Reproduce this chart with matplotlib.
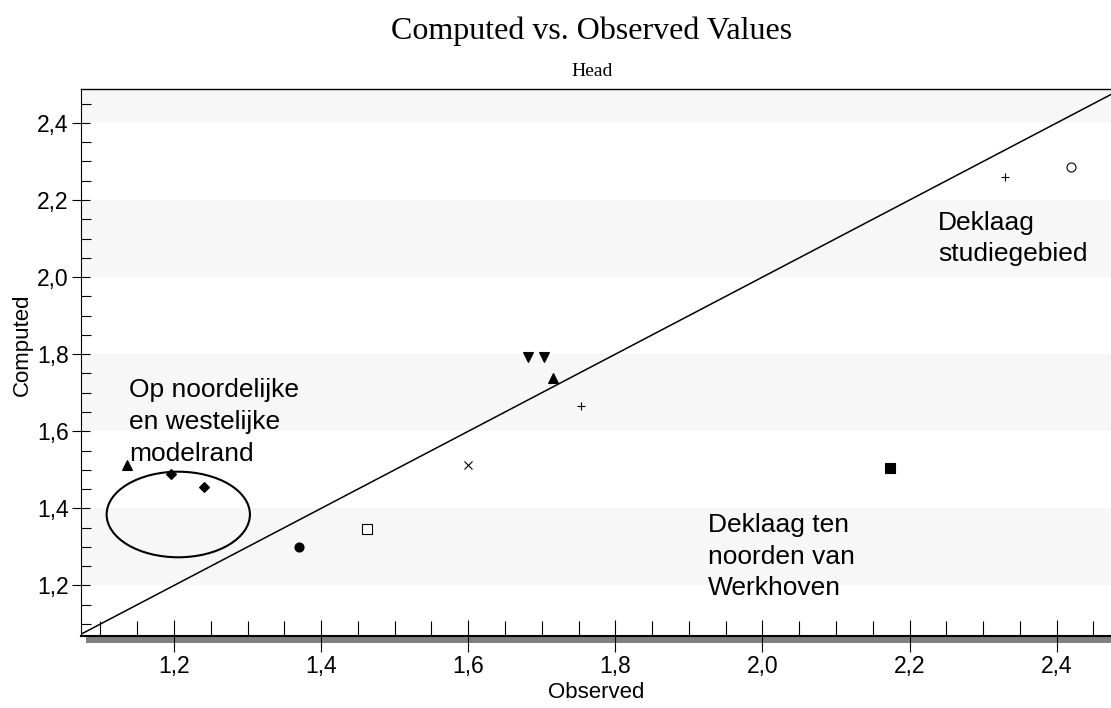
import matplotlib
matplotlib.use('Agg')
import matplotlib.pyplot as plt
from matplotlib.patches import Ellipse, Rectangle
from matplotlib.ticker import MultipleLocator

# observed vs computed head, one marker per well
observed = [1.136, 1.196, 1.241, 1.370, 1.462, 1.600, 1.681, 1.703, 1.715, 1.754, 2.173, 2.330, 2.420]
computed = [1.513, 1.489, 1.456, 1.301, 1.346, 1.513, 1.792, 1.792, 1.738, 1.666, 1.504, 2.260, 2.286]
markers = ['^', 'D', 'D', 'o', 's', 'x', 'v', 'v', '^', '+', 's', '+', 'o']
filled = [True, True, True, True, False, True, True, True, True, True, True, True, False]

x_ticks = [1.2, 1.4, 1.6, 1.8, 2.0, 2.2, 2.4]
x_labels = ['1,2', '1,4', '1,6', '1,8', '2,0', '2,2', '2,4']
y_ticks = [1.2, 1.4, 1.6, 1.8, 2.0, 2.2, 2.4]
y_labels = ['1,2', '1,4', '1,6', '1,8', '2,0', '2,2', '2,4']
band_starts = [1.2, 1.6, 2.0, 2.4]

narrow = ['Liberation Sans Narrow', 'Liberation Sans', 'DejaVu Sans']
plain = ['Liberation Sans', 'DejaVu Sans']

fig = plt.figure(figsize=(11.11, 7.08), dpi=100)
ax = fig.add_axes([0.0726, 0.1017, 0.9274, 0.7719])
ax.set_xlim(1.0732, 2.4738)
ax.set_ylim(1.069, 2.4867)

for lo in band_starts:
    ax.axhspan(lo, lo + 0.2, color='#f7f7f7', lw=0, zorder=0)

ax.axline((1.2, 1.2), slope=1, color='black', lw=1.1, zorder=2)

for xo, yc, m, f in zip(observed, computed, markers, filled):
    if m in ('+', 'x'):
        ax.plot(xo, yc, marker=m, color='black', ms=6, mew=0.8, ls='none', zorder=3)
    else:
        ms = 5.5 if m == 'D' else 6.5
        ax.plot(xo, yc, marker=m, ms=ms, ls='none', zorder=3,
                mfc='black' if f else 'white', mec='black', mew=0.8)

ax.add_patch(Ellipse((1.2059, 1.3842), 0.1948, 0.222, fill=False, lw=1.5, ec='black', zorder=3))

ax.text(1.1388, 1.737, 'Op noordelijke\nen westelijke\nmodelrand', family=plain, fontsize=19,
        va='top', ha='left', linespacing=1.4)
ax.text(2.239, 2.172, 'Deklaag\nstudiegebied', family=plain, fontsize=19,
        va='top', ha='left', linespacing=1.4)
ax.text(1.926, 1.388, 'Deklaag ten\nnoorden van\nWerkhoven', family=plain, fontsize=19,
        va='top', ha='left', linespacing=1.4)

ax.set_xticks(x_ticks)
ax.set_xticklabels(x_labels, family=narrow, fontsize=16.5)
ax.set_yticks(y_ticks)
ax.set_yticklabels(y_labels, family=narrow, fontsize=16.5)
ax.xaxis.set_minor_locator(MultipleLocator(0.05))
ax.yaxis.set_minor_locator(MultipleLocator(0.05))
ax.tick_params(axis='x', which='major', direction='inout', length=23, width=0.8, pad=2.5)
ax.tick_params(axis='x', which='minor', direction='in', length=10.8, width=0.8)
ax.tick_params(axis='y', which='major', direction='inout', length=13, width=0.8, pad=2)
ax.tick_params(axis='y', which='minor', direction='in', length=7.2, width=0.8)

ax.spines['right'].set_visible(False)
ax.spines['top'].set_linewidth(1.0)
ax.spines['left'].set_linewidth(0.8)
ax.spines['bottom'].set_linewidth(1.5)

# grey shadow bar under the x axis
fig.patches.append(Rectangle((86 / 1111, 0.0914), 1025 / 1111, 0.0093, transform=fig.transFigure,
                             color='#808080', lw=0, zorder=-1))

fig.text(592 / 1111, 1 - 39 / 708, 'Computed vs. Observed Values', family='Liberation Serif',
         fontsize=23, ha='center', va='baseline')
fig.text(592 / 1111, 1 - 76 / 708, 'Head', family='Liberation Serif', fontsize=14,
         ha='center', va='baseline')
fig.text(596 / 1111, 1 - 693 / 708, 'Observed', family=narrow, fontsize=16,
         ha='center', va='center')
fig.text(22 / 1111, 1 - 345 / 708, 'Computed', family=narrow, fontsize=16,
         ha='center', va='center', rotation=90)

fig.savefig('out.png', dpi=100)
